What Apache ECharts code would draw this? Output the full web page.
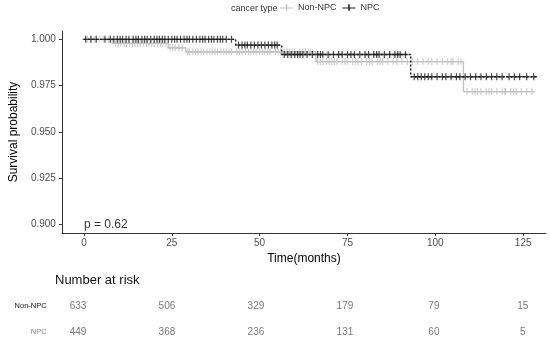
<!DOCTYPE html>
<html><head><meta charset="utf-8">
<script src="https://cdn.jsdelivr.net/npm/echarts@6/dist/echarts.min.js"></script>
<style>html,body{margin:0;padding:0;background:#fff}#c{width:550px;height:348px}</style>
</head><body><div id="c"></div>
<script>
// ---- data ----
const legendTitle = 'cancer type';
const groupNames = ['Non-NPC', 'NPC'];
const nonNpcTimes = [0, 8, 24, 29, 66, 108, 128];
const nonNpcSurv  = [1.0, 0.9978, 0.9955, 0.9933, 0.988, 0.9718, 0.9718];
const npcTimes = [0, 43.2, 56.3, 93, 128.8];
const npcSurv  = [1.0, 0.9969, 0.9918, 0.9798, 0.9798];
const nonNpcCensor = [1, 2, 3, 4.5, 5.5, 7, 9, 9.8, 10.5, 11.5, 12, 13, 13.8, 14.5, 15.3, 16, 17, 17.8, 18.5, 19.3, 20, 21, 21.8, 22.5, 23.3, 24.5, 25.3, 26, 27, 28, 29.5, 30, 31, 31.8, 32.5, 33.3, 34, 35, 35.8, 36.5, 37.3, 38, 39, 39.8, 40.5, 41.3, 42, 43.5, 44.3, 45, 46, 46.8, 47.5, 48.3, 49, 50, 50.8, 51.5, 52.3, 53, 54.5, 55.3, 56, 57, 57.8, 58.5, 59.3, 60, 61.5, 62.3, 63, 63.8, 64.5, 66.5, 67.3, 68, 69, 69.8, 70.5, 71.3, 72, 73.5, 74.3, 75, 76.5, 77.3, 78, 79, 80.5, 81.3, 82, 83.5, 84.3, 85, 86.5, 88, 89, 90.5, 92, 93.5, 95, 96.5, 98, 99, 100.5, 102, 103.5, 104.5, 105, 106.5, 107.3, 109, 110.5, 111.3, 112, 113, 114.5, 115.3, 116, 117.5, 119, 119.8, 120, 121.5, 122.3, 123, 124.5, 126, 127.5];
const npcCensor = [0.5, 2, 3.5, 6, 7.5, 8.5, 9.5, 10.3, 11, 12, 12.8, 14, 14.8, 15.5, 16.5, 17.3, 18, 19, 20, 20.8, 21.5, 22.3, 23, 24, 25, 25.8, 26.5, 27.5, 28.5, 29.3, 30, 31, 32, 33, 33.8, 34.5, 35.5, 36.3, 37, 38, 38.8, 39.5, 40.5, 42, 44, 45, 45.8, 46.5, 47.5, 48.5, 49.5, 50.5, 51.5, 52.5, 53.5, 54.3, 55, 57, 58, 59, 60, 60.8, 61.5, 62.3, 63.5, 65, 66.5, 67.3, 68, 69.5, 71, 72.5, 73.5, 75, 76, 77, 78.5, 80, 81, 82.5, 83.3, 84, 85.5, 87, 88.5, 89.3, 90, 91.5, 94, 95, 96, 97, 98, 99, 100.5, 102, 103, 104.5, 106, 107, 108.5, 110, 111.5, 113, 114.5, 116, 117.5, 119, 121, 122.5, 124, 126, 128];
const riskTimes = [0, 25, 50, 75, 100, 125];
const nonNpcRisk = [633, 506, 329, 179, 79, 15];
const npcRisk = [449, 368, 236, 131, 60, 5];
const xTicks = [0, 25, 50, 75, 100, 125];
const yTicks = [0.9, 0.925, 0.95, 0.975, 1.0];
const pValueText = 'p = 0.62';
const riskTitle = 'Number at risk';

// ---- build ----
const FONT = 'Liberation Sans, Arial, sans-serif';
const GRAY = '#c2c2c2', BLACK = '#1a1a1a';
function survAt(times, surv, t) {
  let v = surv[0];
  for (let i = 0; i < times.length; i++) if (times[i] <= t) v = surv[i];
  return v;
}
const stepData = (times, surv) => times.map((t, i) => [t, surv[i]]);
const censorData = (cs, times, surv) => cs.map(t => [t, survAt(times, surv, t)]);
const plus = 'path://M4,0H6V10H4Z M0,4H10V6H0Z';
const legIcon = 'path://M0,4.4H14V5.6H0Z M6.2,1H7.8V8H6.2Z';

const chart = echarts.init(document.getElementById('c'), null, {renderer: 'canvas'});
chart.setOption({
  animation: false,
  backgroundColor: '#fff',
  textStyle: {fontFamily: FONT},
  title: [{
    text: legendTitle, left: 226, top: -1,
    textStyle: {fontSize: 9, fontWeight: 'normal', color: '#333', fontFamily: FONT}
  }],
  legend: {
    left: 275, top: -2, itemWidth: 13, itemHeight: 9, itemGap: 6,
    textStyle: {fontSize: 9, color: '#333', fontFamily: FONT},
    data: [{name: groupNames[0], icon: legIcon}, {name: groupNames[1], icon: legIcon}]
  },
  graphic: [{
    type: 'text', left: 55, top: 274,
    style: {text: riskTitle, font: '13px ' + FONT, fill: '#111'}
  }],
  grid: [
    {left: 50, right: 4, top: 31, bottom: 115, containLabel: false},
    {left: 55.7, right: 4, top: 293, bottom: 3, containLabel: false}
  ],
  xAxis: [{
    gridIndex: 0, type: 'value', min: -6.26, max: 131.5,
    name: 'Time(months)', nameLocation: 'middle', nameGap: 19,
    nameTextStyle: {fontSize: 12, color: '#000', fontFamily: FONT},
    axisLine: {show: true, lineStyle: {color: '#333', width: 1}},
    axisTick: {show: true, length: 3, customValues: xTicks, lineStyle: {color: '#333'}},
    axisLabel: {customValues: xTicks, fontSize: 10, color: '#4d4d4d', margin: 5, fontFamily: FONT},
    splitLine: {show: false}
  }, {
    gridIndex: 1, type: 'value', min: -6.26, max: 131.5,
    axisLine: {show: false}, axisTick: {show: false}, axisLabel: {show: false}, splitLine: {show: false}
  }, {
    gridIndex: 0, type: 'value', min: 1, max: 2, show: false
  }],
  yAxis: [{
    gridIndex: 0, type: 'value', min: 0.8955, max: 1.0045,
    name: 'Survival probability', nameLocation: 'middle', nameGap: 31,
    nameTextStyle: {fontSize: 12, color: '#000', fontFamily: FONT},
    axisLine: {show: true, onZeroAxisIndex: 2, lineStyle: {color: '#333', width: 1}},
    axisTick: {show: true, length: 3, customValues: yTicks, lineStyle: {color: '#333'}},
    axisLabel: {customValues: yTicks, fontSize: 10, color: '#4d4d4d', margin: 6, fontFamily: FONT,
      formatter: v => Number(v).toFixed(3)},
    splitLine: {show: false}
  }, {
    gridIndex: 1, type: 'category', data: [groupNames[1], groupNames[0]],
    axisLine: {show: false}, axisTick: {show: false}, splitLine: {show: false},
    axisLabel: {margin: 9, fontFamily: FONT,
      formatter: v => v === groupNames[0] ? '{a|' + v + '}' : '{b|' + v + '}',
      rich: {a: {fontSize: 7.5, color: '#111', fontFamily: FONT}, b: {fontSize: 7.5, color: '#888', fontFamily: FONT}}}
  }],
  series: [
    {name: groupNames[0], type: 'line', step: 'end', xAxisIndex: 0, yAxisIndex: 0,
     data: stepData(nonNpcTimes, nonNpcSurv), showSymbol: false, symbol: 'none',
     lineStyle: {color: GRAY, width: 1.4}, itemStyle: {color: GRAY}, z: 2, silent: true},
    {name: groupNames[0], type: 'scatter', xAxisIndex: 0, yAxisIndex: 0,
     data: censorData(nonNpcCensor, nonNpcTimes, nonNpcSurv), symbol: plus, symbolSize: [6, 7],
     itemStyle: {color: GRAY}, z: 3, silent: true},
    {name: groupNames[1], type: 'line', step: 'end', xAxisIndex: 0, yAxisIndex: 0,
     data: stepData(npcTimes, npcSurv), showSymbol: false, symbol: 'none',
     lineStyle: {color: BLACK, width: 1.4, type: [2, 2]}, itemStyle: {color: BLACK}, z: 4, silent: true},
    {name: groupNames[1], type: 'scatter', xAxisIndex: 0, yAxisIndex: 0,
     data: censorData(npcCensor, npcTimes, npcSurv), symbol: plus, symbolSize: [6, 7],
     itemStyle: {color: BLACK}, z: 5, silent: true},
    {name: 'pvalue', type: 'scatter', xAxisIndex: 0, yAxisIndex: 0,
     data: [[0, 0.9]], symbolSize: 0, silent: true,
     label: {show: true, position: 'right', distance: 0, formatter: pValueText,
       fontSize: 12, color: '#000', fontFamily: FONT}},
    {name: 'riskNon', type: 'scatter', xAxisIndex: 1, yAxisIndex: 1,
     data: riskTimes.map((t, i) => [t, groupNames[0], nonNpcRisk[i]]), symbolSize: 0, silent: true,
     label: {show: true, position: 'inside', formatter: p => String(p.value[2]), fontSize: 10, color: '#555', fontFamily: FONT}},
    {name: 'riskNpc', type: 'scatter', xAxisIndex: 1, yAxisIndex: 1,
     data: riskTimes.map((t, i) => [t, groupNames[1], npcRisk[i]]), symbolSize: 0, silent: true,
     label: {show: true, position: 'inside', formatter: p => String(p.value[2]), fontSize: 10, color: '#555', fontFamily: FONT}}
  ]
});
</script>
</body></html>
